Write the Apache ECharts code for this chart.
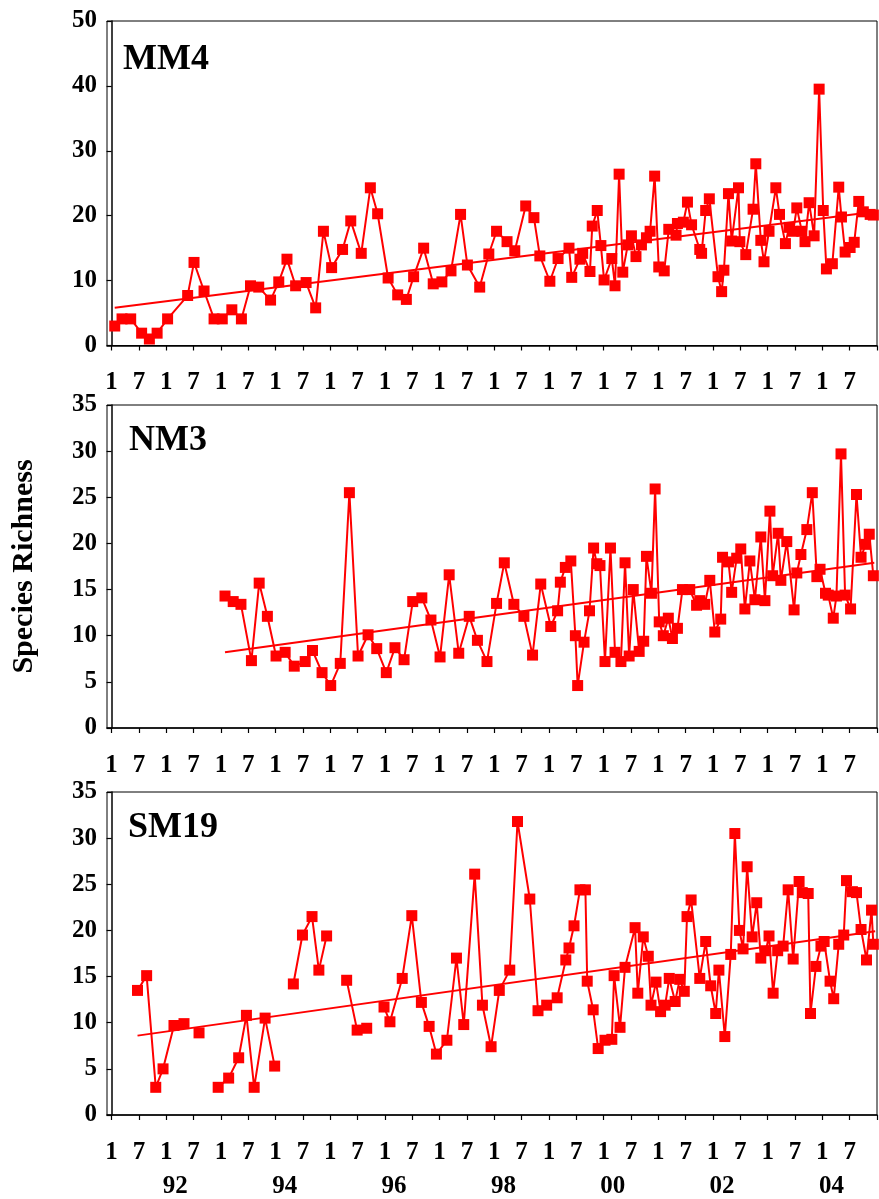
<!DOCTYPE html>
<html><head><meta charset="utf-8">
<script src="https://cdn.jsdelivr.net/npm/echarts@6/dist/echarts.min.js"></script>
<style>html,body{margin:0;padding:0;background:#fff}#c{width:879px;height:1199px}</style>
</head><body><div id="c"></div>
<script>
// x values: months since January 1991 (0 = Jan 1991, 168 = Jan 2005)
const panelNames = ['MM4', 'NM3', 'SM19'];
const monthTickLabels = ['1', '7'];
const yearLabels = ['92', '94', '96', '98', '00', '02', '04'];
const yAxisTitle = 'Species Richness';

const mm4Months = [0.7,2.3,4.2,6.6,8.3,10.0,12.3,16.7,18.1,20.3,22.5,24.3,26.4,28.5,30.5,32.3,34.9,36.7,38.5,40.4,
  42.7,44.8,46.5,48.3,50.7,52.5,54.8,56.8,58.4,60.7,62.8,64.7,66.3,68.5,70.6,72.5,74.5,76.6,78.1,80.8,82.8,84.5,
  86.8,88.5,90.9,92.7,94.0,96.2,98.0,100.4,101.0,102.8,103.4,105.0,105.5,106.6,107.4,108.1,109.8,110.5,111.4,112.2,
  113.3,114.1,115.1,116.3,117.4,118.2,119.2,120.1,121.3,122.3,123.9,124.2,125.5,126.4,127.3,129.1,129.5,130.4,131.2,
  133.1,133.9,134.4,135.4,136.1,137.6,137.9,139.2,140.8,141.4,142.5,143.2,144.3,145.8,146.6,147.9,148.7,149.6,150.4,
  151.5,152.2,153.1,154.2,155.3,156.2,156.9,158.2,159.6,160.2,161.0,162.1,163.0,164.0,165.0,166.5,167.2];
const mm4Values = [3.0,4.1,4.1,1.9,1.0,1.9,4.1,7.7,12.8,8.4,4.1,4.1,5.5,4.1,9.2,9.0,7.0,9.8,13.3,9.2,
  9.7,5.8,17.6,12.0,14.8,19.2,14.2,24.3,20.3,10.4,7.8,7.1,10.6,15.0,9.5,9.8,11.5,20.2,12.4,9.0,14.1,17.6,
  16.0,14.6,21.5,19.7,13.8,9.9,13.4,15.0,10.5,13.3,14.2,11.4,18.4,20.8,15.4,10.1,13.4,9.2,26.4,11.3,
  15.5,16.9,13.7,15.5,16.6,17.6,26.1,12.1,11.5,17.9,17.0,18.8,19.0,22.1,18.6,14.8,14.2,20.8,22.6,
  10.6,8.3,11.6,23.4,16.1,24.3,16.0,14.0,21.0,28.0,16.2,12.9,17.6,24.3,20.2,15.7,18.2,17.6,21.2,
  17.6,16.0,22.0,16.9,39.5,20.8,11.8,12.6,24.4,19.8,14.4,15.1,15.9,22.2,20.6,20.2,20.1];
const mm4TrendMonths = [0.7, 167.5];
const mm4TrendValues = [5.8, 20.6];

const nm3Months = [24.9,26.7,28.4,30.7,32.4,34.2,36.1,38.1,40.1,42.5,44.1,46.2,48.1,50.2,52.2,54.1,56.3,58.2,60.3,62.2,
  64.2,66.1,68.1,70.1,72.1,74.1,76.2,78.5,80.3,82.4,84.5,86.2,88.3,90.5,92.4,94.2,96.4,97.9,98.5,99.6,100.8,101.8,
  102.3,103.7,104.9,105.8,106.5,107.2,108.3,109.5,110.5,111.8,112.7,113.6,114.5,115.8,116.8,117.4,118.5,119.3,120.2,
  121.1,122.2,123.1,124.2,125.3,126.9,128.4,129.1,130.2,131.3,132.4,133.7,134.1,135.4,136.1,137.2,138.1,139.0,140.1,
  141.2,142.5,143.4,144.5,145.1,146.3,146.9,148.2,149.8,150.4,151.3,152.6,153.8,154.8,155.5,156.7,157.3,158.4,159.1,
  160.1,161.0,162.2,163.5,164.5,165.5,166.3,167.2];
const nm3Values = [14.3,13.7,13.4,7.3,15.7,12.1,7.8,8.2,6.7,7.2,8.4,6.0,4.6,7.0,25.5,7.8,10.1,8.6,6.0,8.7,
  7.4,13.7,14.1,11.7,7.7,16.6,8.1,12.1,9.5,7.2,13.5,17.9,13.4,12.1,7.9,15.6,11.0,12.7,15.8,17.4,18.1,10.0,
  4.6,9.3,12.7,19.5,17.8,17.6,7.2,19.5,8.2,7.2,17.9,7.8,15.0,8.3,9.4,18.6,14.6,25.9,11.5,
  10.0,11.9,9.7,10.8,15.0,15.0,13.3,13.8,13.4,16.0,10.4,11.8,18.5,18.0,14.7,18.4,19.4,12.9,18.1,
  13.9,20.7,13.8,23.5,16.5,21.1,16.0,20.2,12.8,16.8,18.8,21.5,25.5,16.4,17.2,14.6,14.4,11.9,14.3,
  29.7,14.4,12.9,25.3,18.5,19.9,21.0,16.5];
const nm3TrendMonths = [24.9, 167.4];
const nm3TrendValues = [8.2, 17.9];

// null = missing sample (line is broken there)
const sm19Months = [5.7,7.7,9.7,11.3,13.7,15.9,17.5,19.2,21.0,23.4,25.7,27.9,29.6,31.3,33.7,35.8,38.0,39.9,41.9,44.0,45.5,47.2,49.5,
  51.6,53.9,56.0,58.0,59.8,61.1,63.8,65.9,68.0,69.7,71.3,73.6,75.7,77.3,79.7,81.4,83.3,85.1,87.4,89.1,91.8,93.6,95.5,97.8,
  99.7,100.4,101.5,102.8,104.0,104.4,105.7,106.8,108.3,109.8,110.3,111.6,112.7,114.9,115.5,116.7,117.8,118.4,119.5,120.5,
  121.5,122.4,123.7,124.7,125.7,126.3,127.2,129.1,130.4,131.5,132.6,133.3,134.6,135.9,136.8,137.8,138.6,139.5,140.6,141.6,
  142.5,143.6,144.3,145.2,146.2,147.4,148.5,149.6,150.9,151.6,152.9,153.4,154.6,155.7,156.4,157.7,158.5,159.6,160.7,161.3,
  162.6,163.5,164.5,165.7,166.8,167.2];
const sm19Values = [13.5,15.1,3.0,5.0,9.7,9.9,null,8.9,null,3.0,4.0,6.2,10.8,3.0,10.5,5.3,null,14.2,19.5,21.5,15.7,19.4,null,
  14.6,9.2,9.4,null,11.7,10.1,14.8,21.6,12.2,9.6,6.6,8.1,17.0,9.8,26.1,11.9,7.4,13.5,15.7,31.8,23.4,11.3,11.9,12.7,
  16.8,18.1,20.5,24.4,24.4,14.5,11.4,7.2,8.1,8.2,15.1,9.5,16.0,20.3,13.2,19.3,17.2,11.9,14.4,11.2,
  11.9,14.8,12.3,14.7,13.4,21.5,23.3,14.8,18.8,14.0,11.0,15.7,8.5,17.4,30.5,20.0,18.0,26.9,19.3,23.0,
  17.0,17.8,19.4,13.2,17.8,18.3,24.4,16.9,25.3,24.1,24.0,11.0,16.1,18.3,18.8,14.5,12.6,18.5,19.5,25.4,
  24.2,24.1,20.1,16.8,22.2,18.5];
const sm19TrendMonths = [5.7, 167.6];
const sm19TrendValues = [8.6, 19.9];

const yMax = [50, 35, 35];
const yStep = [10, 5, 5];

const FONT = '"Liberation Serif", "Times New Roman", serif';
const RED = '#ff0000';
const zip = (xs, ys) => xs.map((x, i) => [x, ys[i] === null ? '-' : ys[i]]);

const monthTicks = [];
for (let m = 0; m <= 168; m += 6) monthTicks.push(m);
const monthLabelVals = monthTicks.filter(m => m < 168);
const yearPos = yearLabels.map((_, i) => 14.0 + 24 * i);

const gridDefs = [
  {top: 21, height: 324.5},
  {top: 405, height: 323},
  {top: 792, height: 323}
];
const grid = gridDefs.map(g => ({left: 107, width: 770, top: g.top, height: g.height,
  show: true, borderColor: '#000', borderWidth: 1, backgroundColor: 'transparent'}));

const axisLabelStyle = {fontFamily: FONT, fontWeight: 'bold', fontSize: 25, color: '#000'};

const xAxis = [0, 1, 2].map(i => ({
  type: 'value', gridIndex: i, min: -1, max: 168,
  axisLine: {show: true, onZero: false, lineStyle: {color: '#000', width: 1.5}},
  axisTick: {show: true, customValues: monthTicks, length: 5, lineStyle: {color: '#000', width: 1.2}},
  axisLabel: Object.assign({customValues: monthLabelVals, margin: 25,
    formatter: v => monthTickLabels[Math.round(v / 6) % 2]}, axisLabelStyle),
  splitLine: {show: false}
}));
xAxis.push({
  type: 'value', gridIndex: 2, position: 'bottom', min: -1, max: 168,
  axisLine: {show: false}, axisTick: {show: false}, splitLine: {show: false},
  axisLabel: Object.assign({customValues: yearPos, margin: 59,
    formatter: v => yearLabels[Math.round((v - 14.0) / 24)]}, axisLabelStyle)
});

const yAxis = [0, 1, 2].map(i => ({
  type: 'value', gridIndex: i, min: 0, max: yMax[i], interval: yStep[i],
  axisLine: {show: true, lineStyle: {color: '#000', width: 1.5}},
  axisTick: {show: true, length: 5, lineStyle: {color: '#000', width: 1.2}},
  axisLabel: Object.assign({margin: 10}, axisLabelStyle),
  splitLine: {show: false}
}));
yAxis[1].name = yAxisTitle;
yAxis[1].nameLocation = 'middle';
yAxis[1].nameRotate = 90;
yAxis[1].nameGap = 68;
yAxis[1].nameTextStyle = {fontFamily: FONT, fontWeight: 'bold', fontSize: 30, color: '#000'};

const dataSeries = [zip(mm4Months, mm4Values), zip(nm3Months, nm3Values), zip(sm19Months, sm19Values)];
const trendSeries = [zip(mm4TrendMonths, mm4TrendValues), zip(nm3TrendMonths, nm3TrendValues), zip(sm19TrendMonths, sm19TrendValues)];

const series = [];
[0, 1, 2].forEach(i => {
  series.push({
    type: 'line', xAxisIndex: i, yAxisIndex: i, data: dataSeries[i],
    symbol: 'rect', symbolSize: 11, showAllSymbol: true, connectNulls: false,
    itemStyle: {color: RED}, lineStyle: {color: RED, width: 2}, z: 2
  });
  series.push({
    type: 'line', xAxisIndex: i, yAxisIndex: i, data: trendSeries[i],
    symbol: 'none', lineStyle: {color: RED, width: 2}, z: 3
  });
});

const titleTops = [37, 418, 805];
const titleLefts = [118, 124, 123];
const title = panelNames.map((t, i) => ({
  text: t, left: titleLefts[i], top: titleTops[i],
  textStyle: {fontFamily: FONT, fontWeight: 'bold', fontSize: 36, color: '#000'}
}));

const chart = echarts.init(document.getElementById('c'));
chart.setOption({animation: false, backgroundColor: '#fff', title, grid, xAxis, yAxis, series});
</script></body></html>
